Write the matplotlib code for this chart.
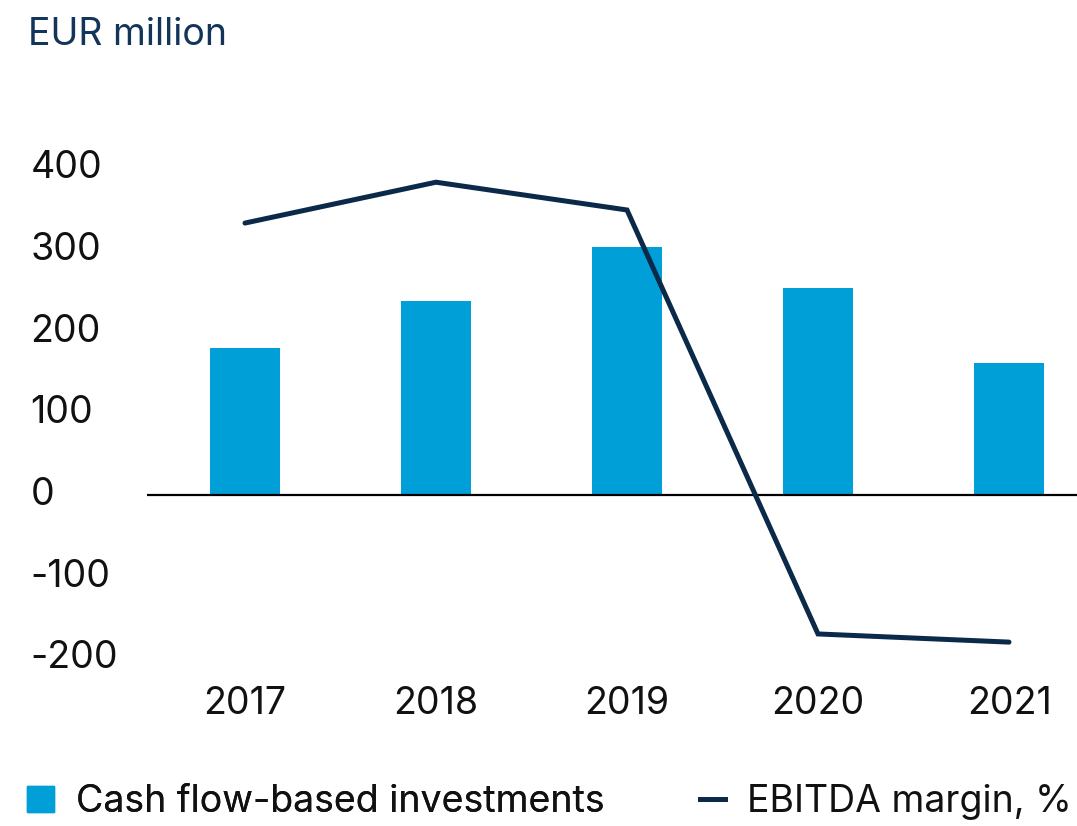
import numpy as np
import matplotlib
matplotlib.use("Agg")
from matplotlib import pyplot as plt
from matplotlib.patches import Patch
from matplotlib.lines import Line2D

plt.rcParams["font.family"] = ["Inter", "DejaVu Sans"]

years = ["2017", "2018", "2019", "2020", "2021"]
investments = [180, 237, 304, 253, 162]     # EUR million
ebitda_margin = [333, 383, 349, -170, -180]   # drawn on same scale
y_ticks = [400, 300, 200, 100, 0, -100, -200]

bar_color = "#009fd8"
line_color = "#0b2949"
text_color = "#111111"
fs = 27

fig = plt.figure(figsize=(10.77, 8.26), dpi=100)
ax = fig.add_axes([0.1365, 0.188, 0.8635, 0.628])

x = np.arange(len(years))
ax.bar(x, investments, width=0.366, color=bar_color, zorder=2)
ax.plot(x, ebitda_margin, color=line_color, lw=3.6, solid_capstyle="round",
        solid_joinstyle="miter", zorder=3)
ax.axhline(0, color="black", lw=1.6, zorder=2)

ax.set_xlim(-0.513, 4.356)
ax.set_ylim(-215, 420)

ax.set_xticks(x)
ax.set_xticklabels(years)
ax.set_yticks(y_ticks)
ax.set_yticklabels([str(v) for v in y_ticks], ha="left", va="center")
ax.tick_params(axis="both", length=0, labelsize=fs, colors=text_color)
ax.tick_params(axis="y", pad=84)
ax.tick_params(axis="x", pad=11)
for s in ax.spines.values():
    s.set_visible(False)

fig.text(28 / 1077, 1 - 35 / 826, "EUR million", fontsize=fs, color="#13355a",
         ha="left", va="center")

leg1 = fig.legend(handles=[Patch(color=bar_color, label="Cash flow-based investments")],
                  loc="center left", bbox_to_anchor=(27 / 1077, 1 - 802 / 826),
                  frameon=False, fontsize=fs, handlelength=0.72, handleheight=0.72,
                  handletextpad=0.6, borderpad=0, borderaxespad=0, labelcolor=text_color)
leg2 = fig.legend(handles=[Line2D([], [], color=line_color, lw=3.6, label="EBITDA margin, %")],
                  loc="center left", bbox_to_anchor=(700 / 1077, 1 - 802 / 826),
                  frameon=False, fontsize=fs, handlelength=0.66, handleheight=0.72,
                  handletextpad=0.6, borderpad=0, borderaxespad=0, labelcolor=text_color)
fig.add_artist(leg1)

fig.savefig("out.png", dpi=100)
